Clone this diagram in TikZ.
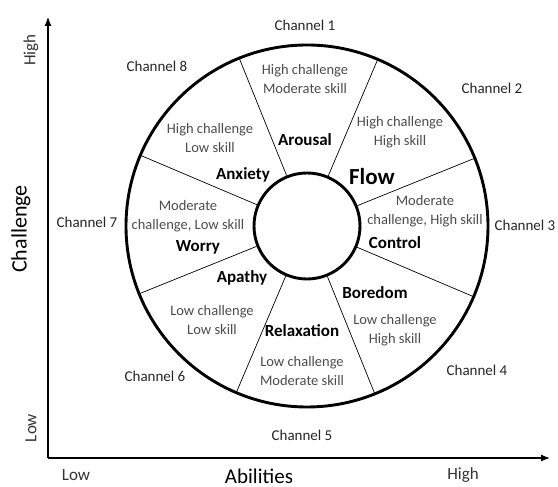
\documentclass[tikz,border=0pt]{standalone}
\usepackage{fontspec}
\setmainfont{Carlito}
\usetikzlibrary{arrows.meta,positioning}

\begin{document}
\begin{tikzpicture}[x=1pt,y=1pt,
    chan/.style={font=\fontsize{15}{18}\selectfont, text=black!85},
    desc/.style={font=\fontsize{14.5}{18.5}\selectfont, text=black!70, align=center},
    mood/.style={font=\fontsize{17}{20}\selectfont\bfseries},
    axlab/.style={font=\fontsize{17}{20}\selectfont, text=black!80}]
            \useasboundingbox (-48,-29) rectangle (510,458);

            % axes
            \coordinate (origin) at (0,0);
            \coordinate (ytip) at (0,441);
            \coordinate (xtip) at (502,0);
            \draw[line width=1.2pt,-{Latex[length=9pt,width=7pt]}] (origin) -- (ytip);
            \draw[line width=1.2pt,-{Latex[length=9pt,width=7pt]}] (origin) -- (xtip);

            \node[axlab,rotate=90] (yhigh) at (-17,408) {High};
            \node[axlab,rotate=90] (ylow) at (-17,30) {Low};
            \node[font=\fontsize{22}{26}\selectfont,rotate=90] (ylab) at (-27,229) {Challenge};
            \node[axlab] (xlow) at (28,-17) {Low};
            \node[axlab] (xhigh) at (415,-17) {High};
            \node[font=\fontsize{21}{25}\selectfont] (xlab) at (211,-18) {Abilities};

            % wheel
            \node[draw,circle,line width=2.9pt,inner sep=0pt,minimum size=362pt] (wheel) at (259,232) {};
            \node[draw,circle,line width=2.9pt,inner sep=0pt,minimum size=106pt] (hub) at (259,232) {};

            \foreach \a in {22.5,67.5,...,337.5}
                \draw[line width=0.7pt] (hub.\a) -- (wheel.\a);

            % channels
            \node[chan] (ch1) at (257,433) {Channel 1};
            \node[chan] (ch2) at (444,370) {Channel 2};
            \node[chan] (ch3) at (477,233) {Channel 3};
            \node[chan] (ch4) at (429,88) {Channel 4};
            \node[chan] (ch5) at (254,23) {Channel 5};
            \node[chan] (ch6) at (107,82) {Channel 6};
            \node[chan] (ch7) at (39,236) {Channel 7};
            \node[chan] (ch8) at (109,392) {Channel 8};

            % sectors
            \node[desc] (d1) at (257,379) {High challenge\\Moderate skill};
            \node[desc] (d2) at (352,326) {High challenge\\High skill};
            \node[desc] (d3) at (377,247) {Moderate\\challenge, High skill};
            \node[desc] (d4) at (347,128) {Low challenge\\High skill};
            \node[desc] (d5) at (254,87) {Low challenge\\Moderate skill};
            \node[desc] (d6) at (164,138) {Low challenge\\Low skill};
            \node[desc] (d7) at (140,242) {Moderate\\challenge, Low skill};
            \node[desc] (d8) at (162,320) {High challenge\\Low skill};

            \node[mood] (arousal) at (257,318) {Arousal};
            \node[mood,font=\fontsize{23}{27}\selectfont\bfseries] (flow) at (324,281) {Flow};
            \node[mood] (control) at (347,215) {Control};
            \node[mood] (boredom) at (327,165) {Boredom};
            \node[mood] (relax) at (254,127) {Relaxation};
            \node[mood] (apathy) at (194,180) {Apathy};
            \node[mood] (worry) at (150,211) {Worry};
            \node[mood] (anxiety) at (195,283) {Anxiety};

        \end{tikzpicture}
\end{document}
